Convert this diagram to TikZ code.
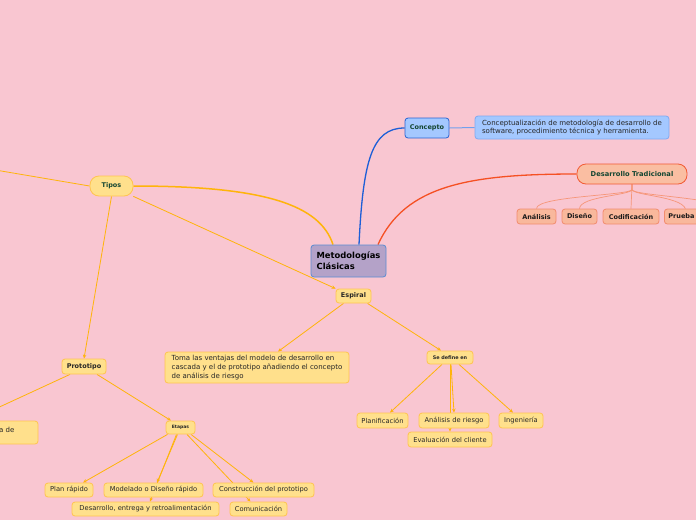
\documentclass[tikz,border=0pt]{standalone}
\usepackage{fontspec}
\setmainfont{DejaVu Sans}
\usetikzlibrary{arrows.meta}
\pgfdeclarelayer{back}
\pgfdeclarelayer{lines}
\pgfsetlayers{back,lines,main}

\definecolor{bgpink}{RGB}{249,198,209}
\definecolor{yfill}{RGB}{255,224,140}
\definecolor{yborder}{RGB}{255,196,80}
\definecolor{yline}{RGB}{255,180,10}
\definecolor{cfill}{RGB}{180,162,200}
\definecolor{cborder}{RGB}{90,140,210}
\definecolor{bfill}{RGB}{164,200,255}
\definecolor{bborder}{RGB}{40,100,210}
\definecolor{bline}{RGB}{30,95,215}
\definecolor{rfill}{RGB}{250,190,162}
\definecolor{rborder}{RGB}{242,90,50}
\definecolor{rline}{RGB}{245,80,35}
\definecolor{sfill}{RGB}{249,184,156}
\definecolor{sborder}{RGB}{242,140,110}
\definecolor{sline}{RGB}{246,150,120}
\definecolor{dgreen}{RGB}{20,70,50}

\tikzset{
  box/.style={draw, rounded corners=3pt, line width=0.8pt, inner sep=2pt, align=center},
  ybox/.style={box, fill=yfill, draw=yborder, text=black!85, font=\fontsize{6.7}{8.5}\selectfont},
  ybold/.style={ybox, font=\fontsize{6.5}{8}\selectfont\bfseries},
  ytiny/.style={ybox, font=\fontsize{4.9}{6}\selectfont\bfseries},
  ydesc/.style={ybox, align=left, font=\fontsize{7}{8.6}\selectfont},
  sbox/.style={box, fill=sfill, draw=sborder, text=black!90, font=\fontsize{6.5}{8}\selectfont\bfseries},
  yarrow/.style={draw=yline, line width=0.8pt, -{Stealth[length=4pt,width=3.5pt]}},
}

\begin{document}
\begin{tikzpicture}[x=1pt,y=-1pt]
  %%%%% START %%%%%
  \begin{pgfonlayer}{back}
    \fill[bgpink] (0,0) rectangle (696,520);
  \end{pgfonlayer}
  \useasboundingbox (0,0) rectangle (696,520);
  \clip (0,0) rectangle (696,520);

  % centre and the two upper branches
  \node[box, fill=cfill, draw=cborder, align=left, minimum width=75pt, minimum height=32pt,
        font=\fontsize{8.4}{10.8}\selectfont\bfseries] (meto) at (348.5,261) {Metodologías\\Clásicas};

  \node[box, fill=bfill, draw=bborder, text=dgreen, minimum width=44pt, minimum height=20pt,
        font=\fontsize{6.5}{8}\selectfont\bfseries] (concepto) at (427,128) {Concepto};
  \node[box, fill=bfill, draw=bfill!70!bborder, align=left, minimum width=194pt, minimum height=23pt,
        text=black!85, font=\fontsize{7}{8.8}\selectfont] (cdesc) at (572,127.5)
        {Conceptualización de metodología de desarrollo de\\software, procedimiento técnica y herramienta.};

  \node[box, fill=rfill, draw=rborder, rounded corners=9pt, text=dgreen, minimum width=110pt, minimum height=20pt,
        font=\fontsize{6.7}{8}\selectfont\bfseries] (destrad) at (632,174) {Desarrollo Tradicional};
  \node[sbox, minimum width=39pt, minimum height=15pt] (analisis) at (536.5,216.5) {Análisis};
  \node[sbox, minimum width=35pt, minimum height=15pt] (diseno) at (579.5,216.5) {Diseño};
  \node[sbox, minimum width=56pt, minimum height=15pt] (codif) at (631,216.5) {Codificación};
  \node[sbox, anchor=west, text width=44pt, align=left, inner sep=4pt, minimum height=15pt] (prueba) at (664,216.5) {Prueba};
  \coordinate (offright) at (740,209);

  % Tipos
  \node[ybox, rounded corners=9pt, text=dgreen, minimum width=43pt, minimum height=20pt,
        font=\fontsize{6.5}{8}\selectfont\bfseries] (tipos) at (111.5,186) {Tipos};
  \coordinate (offleft) at (-40,164);

  % Espiral
  \node[ybold, minimum width=35pt, minimum height=14pt] (espiral) at (353.5,296) {Espiral};
  \node[ydesc, minimum width=184pt, minimum height=31pt] (espdesc) at (257,367.5)
        {Toma las ventajas del modelo de desarrollo en\\cascada y el de prototipo añadiendo el concepto\\de análisis de riesgo};
  \node[ytiny, minimum width=46pt, minimum height=13pt] (sedef) at (450,357.5) {Se define en};
  \node[ybox, minimum width=51pt, minimum height=15pt] (planif) at (382.5,420.5) {Planificación};
  \node[ybox, minimum width=70pt, minimum height=15pt] (riesgo) at (454,420.5) {Análisis de riesgo};
  \node[ybox, minimum width=44pt, minimum height=15pt] (ingen) at (521,420.5) {Ingeniería};
  \node[ybox, minimum width=84pt, minimum height=15pt] (evalcli) at (450,439.5) {Evaluación del cliente};

  % Prototipo
  \node[ybold, minimum width=44pt, minimum height=15pt] (proto) at (84,366.5) {Prototipo};
  \node[ybox, minimum width=136pt, minimum height=23pt] (leftbox) at (-30,432.5) {};
  \node[anchor=west, inner sep=0pt, text=black!85, font=\fontsize{7}{8.6}\selectfont] (lefttxt) at (-1,430) {a de};
  \node[ytiny, font=\fontsize{4.5}{6}\selectfont\bfseries, minimum width=29pt, minimum height=13pt] (etapas) at (180.5,427.5) {Etapas};
  \node[ybox, minimum width=48pt, minimum height=14pt] (planrap) at (69,490) {Plan rápido};
  \node[ybox, minimum width=99pt, minimum height=14pt] (modelado) at (153.5,490) {Modelado o Diseño rápido};
  \node[ybox, minimum width=101pt, minimum height=14pt] (constr) at (263.5,490) {Construcción del prototipo};
  \node[ybox, minimum width=147pt, minimum height=14pt] (desent) at (145.5,509) {Desarrollo, entrega y retroalimentación};
  \node[ybox, minimum width=57pt, minimum height=14pt] (comunic) at (258.5,509) {Comunicación};

  \begin{pgfonlayer}{lines}
    % main branches
    \draw[yline, line width=1.5pt] (tipos.east) .. controls (265,186) and (320,205) .. ([xshift=-15.5pt]meto.north);
    \draw[bline, line width=1.3pt] ([xshift=10.5pt]meto.north) .. controls (363,160) and (372,128) .. (concepto.west);
    \draw[rline, line width=1.3pt] ([xshift=29.5pt]meto.north) .. controls (405,185) and (470,174) .. (destrad.west);
    \draw[bfill!60!bborder, line width=1pt] (concepto.east) -- (cdesc.west);

    % Desarrollo Tradicional fan
    \draw[sline, line width=0.7pt] (destrad.south) -- ++(0,5) .. controls +(0,6) and (536,196) .. (analisis.north);
    \draw[sline, line width=0.7pt] (destrad.south) -- ++(0,5) .. controls +(0,6) and (580,196) .. (diseno.north);
    \draw[sline, line width=0.7pt] (destrad.south) -- (codif.north);
    \draw[sline, line width=0.7pt] (destrad.south) -- ++(0,5) .. controls +(0,6) and (680,196) .. ([xshift=-5pt]prueba.north);
    \draw[sline, line width=0.7pt] (destrad.south) -- ++(0,5) .. controls +(0,6) and (700,196) .. (offright);

    % Tipos
    \draw[yline, line width=0.8pt] (tipos.west) -- (offleft);
    \draw[yarrow] (tipos.south east) -- (espiral.north west);
    \draw[yarrow] (tipos.south) -- (proto.north);

    % Espiral
    \draw[yarrow] ([xshift=-10pt]espiral.south) -- ([xshift=21pt]espdesc.north);
    \draw[yarrow] ([xshift=14pt]espiral.south) -- ([xshift=-9pt]sedef.north);
    \draw[yarrow] ([xshift=-8pt]sedef.south) -- ([xshift=7.5pt]planif.north);
    \draw[yarrow] ([xshift=1pt]sedef.south) -- (riesgo.north);
    \draw[yarrow] (sedef.south) -- (evalcli.north);
    \draw[yarrow] ([xshift=9pt]sedef.south) -- ([xshift=-8pt]ingen.north);

    % Prototipo
    \draw[yarrow] ([xshift=-14pt]proto.south) -- (leftbox.north);
    \draw[yarrow] ([xshift=13pt]proto.south) -- ([xshift=-9.5pt]etapas.north);
    \draw[yarrow] ([xshift=-13pt]etapas.south) -- ([xshift=14pt]planrap.north);
    \draw[yarrow] ([xshift=-3pt]etapas.south) -- ([xshift=3.5pt]modelado.north);
    \draw[yarrow] ([xshift=-4pt]etapas.south) -- ([xshift=4.5pt]desent.north);
    \draw[yarrow] ([xshift=6.5pt]etapas.south) -- ([xshift=-8pt]comunic.north);
    \draw[yarrow] ([xshift=10.5pt]etapas.south) -- ([xshift=-10pt]constr.north);
  \end{pgfonlayer}
  %%%%% END %%%%%
\end{tikzpicture}
\end{document}
